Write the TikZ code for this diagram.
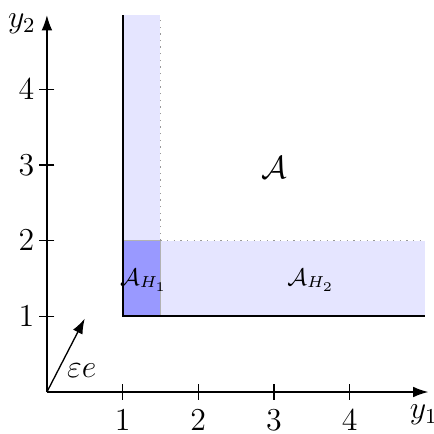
\documentclass[tikz,border=0pt]{standalone}
\usetikzlibrary{arrows.meta}
\begin{document}
\begin{tikzpicture}[
  every node/.style={font=\large},
  axis/.style={-{Latex[length=2mm,width=1.4mm]}, line width=0.5pt},
  tickmark/.style={line width=0.5pt},
  ticklab/.style={inner sep=0pt},
  bound/.style={line width=0.7pt},
  dotline/.style={dotted, gray!80, line width=0.5pt},
  lightreg/.style={fill=blue!10},
  darkreg/.style={fill=blue!40, draw=gray!60, line width=0.4pt},
  sublab/.style={font=\small}
]
\useasboundingbox (-0.62,-0.555) rectangle (5.11,5.18);
% regions
\fill[lightreg] (1,1) rectangle (1.5,4.98);
\fill[lightreg] (1,1) rectangle (5,2);
\filldraw[darkreg] (1,1) rectangle (1.5,2);
% dotted edges
\coordinate (d1) at (1.5,2);
\coordinate (d2) at (1.5,4.98);
\coordinate (d3) at (5,2);
\draw[dotline] (d1) -- (d2);
\draw[dotline] (d1) -- (d3);
% solid boundary
\coordinate (c11) at (1,1);
\coordinate (ctop) at (1,4.98);
\coordinate (cright) at (5,1);
\draw[bound] (ctop) -- (c11) -- (cright);
% axes
\coordinate (O) at (0,0);
\coordinate (xend) at (5.04,0);
\coordinate (yend) at (0,4.98);
\draw[axis] (O) -- (xend);
\draw[axis] (O) -- (yend);
\node (ylab1) at (4.98,-0.3) {$y_1$};
\node (ylab2) at (-0.33,4.86) {$y_2$};
% ticks
\foreach \i in {1,2,3,4}{
  \draw[tickmark] (\i,0.1) -- (\i,-0.1);
  \node[ticklab, anchor=north] (xt\i) at (\i,-0.235) {$\i$};
  \draw[tickmark] (0.1,\i) -- (-0.1,\i);
  \node[ticklab, anchor=east] (yt\i) at (-0.16,\i) {$\i$};
}
% epsilon e
\coordinate (ee) at (0.5,0.97);
\draw[axis] (O) -- (ee);
\node (eelab) at (0.46,0.28) {$\varepsilon e$};
% labels
\node (A) at (3,2.96) {$\mathcal{A}$};
\node[sublab] (AH1) at (1.28,1.48) {$\mathcal{A}_{H_1}$};
\node[sublab] (AH2) at (3.49,1.48) {$\mathcal{A}_{H_2}$};
\end{tikzpicture}
\end{document}
